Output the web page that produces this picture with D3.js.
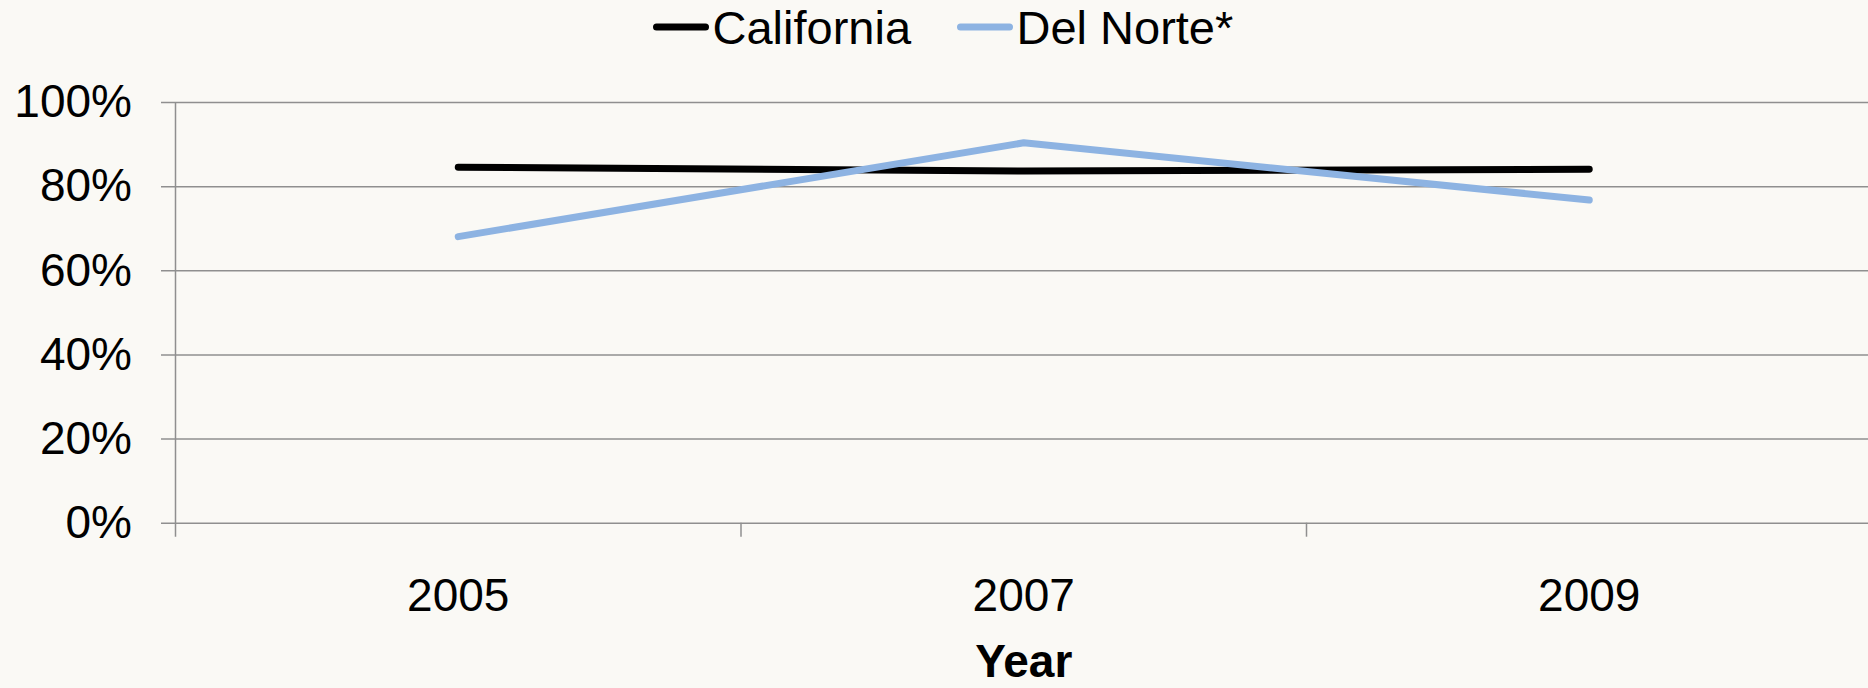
<!DOCTYPE html>
<html>
<head>
<meta charset="utf-8">
<script src="https://cdn.jsdelivr.net/npm/d3@7"></script>
<style>
  html, body { margin: 0; padding: 0; background: #faf9f5; }
  svg { display: block; font-family: "Liberation Sans", Arial, sans-serif; }
</style>
</head>
<body>
<div id="chart"></div>
<script>
// chart data
const years = ["2005", "2007", "2009"];
const california = [84.5, 83.6, 84.0];
const delNorte = [68.0, 90.3, 76.7];
const yTicks = [0, 20, 40, 60, 80, 100];

const seriesNames = ["California", "Del Norte*"];
const seriesColors = ["#000000", "#8db3e2"];

// chart settings
const width = 1868;
const height = 688;
const plotLeft = 175.5;
const plotRight = 1872;
const plotTop = 102;
const plotBottom = 522.7;

const svg = d3
  .select("#chart")
  .append("svg")
  .attr("width", width)
  .attr("height", height);

// scales
const xBand = d3.scaleBand().domain(years).range([plotLeft, plotRight]);
const xScale = (d) => xBand(d) + xBand.bandwidth() / 2;
const yScale = d3.scaleLinear().domain([0, 100]).range([plotBottom, plotTop]);

// y axis + gridlines
const yAxis = d3
  .axisLeft(yScale)
  .tickValues(yTicks)
  .tickFormat((d) => d + "%")
  .tickSize(-(width - plotLeft + 20))
  .tickPadding(29);

const yg = svg
  .append("g")
  .attr("transform", "translate(" + (plotLeft - 14.5) + ",0)")
  .call(yAxis);
yg.select(".domain").remove();
yg.selectAll(".tick line").attr("stroke", "#8f8f8f").attr("stroke-width", 1.5);
yg.selectAll(".tick text")
  .attr("fill", "#000")
  .style("font-size", "46px");

// vertical axis line
svg
  .append("line")
  .attr("x1", plotLeft)
  .attr("x2", plotLeft)
  .attr("y1", yScale(100))
  .attr("y2", yScale(0) + 14)
  .attr("stroke", "#8f8f8f")
  .attr("stroke-width", 1.5);

// category boundary ticks
svg
  .selectAll(".xtick")
  .data(years.slice(1))
  .enter()
  .append("line")
  .attr("class", "xtick")
  .attr("x1", (d) => xBand(d))
  .attr("x2", (d) => xBand(d))
  .attr("y1", yScale(0))
  .attr("y2", yScale(0) + 14)
  .attr("stroke", "#8f8f8f")
  .attr("stroke-width", 1.5);

// x labels
svg
  .selectAll(".xlabel")
  .data(years)
  .enter()
  .append("text")
  .attr("class", "xlabel")
  .attr("x", (d) => xScale(d))
  .attr("y", 611)
  .attr("text-anchor", "middle")
  .style("font-size", "46px")
  .text((d) => d);

// x axis title
svg
  .append("text")
  .attr("x", xScale("2007"))
  .attr("y", 677)
  .attr("text-anchor", "middle")
  .style("font-size", "46px")
  .style("font-weight", "bold")
  .text("Year");

// lines
const line = d3
  .line()
  .x((d, i) => xScale(years[i]))
  .y((d) => yScale(d));

[california, delNorte].forEach((s, i) => {
  svg
    .append("path")
    .datum(s)
    .attr("d", line)
    .attr("fill", "none")
    .attr("stroke", seriesColors[i])
    .attr("stroke-width", 7)
    .attr("stroke-linecap", "round")
    .attr("stroke-linejoin", "round");
});

// legend
const legendX = [656.5, 960.5];
seriesNames.forEach((name, i) => {
  const g = svg.append("g").attr("transform", "translate(" + legendX[i] + ",27)");
  g.append("line")
    .attr("x1", 0)
    .attr("x2", 49)
    .attr("stroke", seriesColors[i])
    .attr("stroke-width", 7)
    .attr("stroke-linecap", "round");
  g.append("text")
    .attr("x", 56)
    .attr("y", 17)
    .style("font-size", "47px")
    .text(name);
});
</script>
</body>
</html>
